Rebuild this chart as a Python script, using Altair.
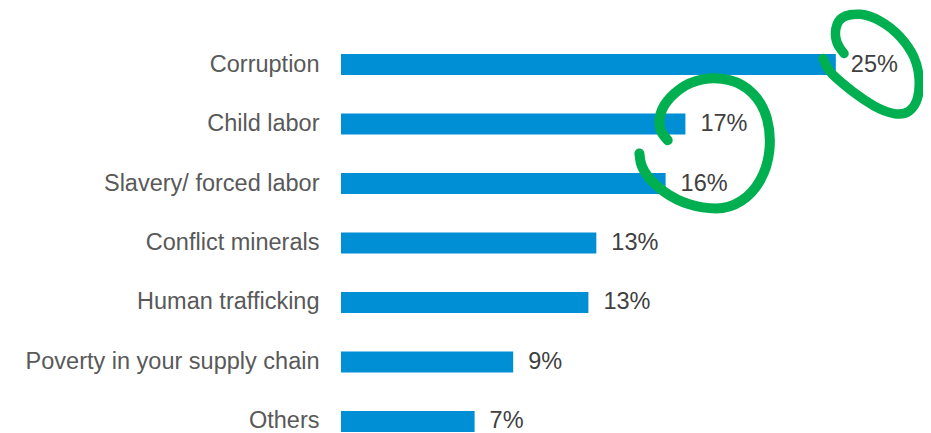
import altair as alt
import pandas as pd

categories = ["Corruption", "Child labor", "Slavery/ forced labor", "Conflict minerals",
              "Human trafficking", "Poverty in your supply chain", "Others"]
values = [25.0, 17.4, 16.4, 12.9, 12.5, 8.7, 6.75]
labels = ["25%", "17%", "16%", "13%", "13%", "9%", "7%"]

df = pd.DataFrame({"category": categories, "value": values, "label": labels})

FONT = "Liberation Sans"


def smooth_path(pts):
    """Hand-drawn looking loop as an SVG path (offsets in px from the anchor)."""
    mids = [((pts[i][0] + pts[i + 1][0]) / 2, (pts[i][1] + pts[i + 1][1]) / 2)
            for i in range(len(pts) - 1)]
    d = f"M{pts[0][0]} {pts[0][1]} L{mids[0][0]} {mids[0][1]}"
    for i in range(1, len(pts) - 1):
        d += f" Q{pts[i][0]} {pts[i][1]} {mids[i][0]} {mids[i][1]}"
    d += f" L{pts[-1][0]} {pts[-1][1]}"
    return d


loop1 = [(9, -11), (0.7, -21), (-1, -34.3), (4, -46), (17.3, -51), (37, -49.3),
         (60.7, -37.6), (80.7, -17.6), (90.7, 2.4), (92.3, 25.7), (87, 42.4),
         (74, 50.7), (54, 47.4), (30.7, 35.7), (7, 19), (-8, 5.7), (-12.7, -6)]
# squeeze the right side a little so the loop stays inside the page
loop1 = [(x * 0.91 if x > 0 else x, y) for x, y in loop1]
loop2 = [(-17.7, 16.2), (-26, 6.2), (-26, -10.5), (-16, -27.1), (4, -42.1),
         (30.7, -47.1), (57.3, -40.5), (77.3, -20.5), (85.7, 9.5), (82.3, 42.9),
         (67.3, 69.5), (44, 84.5), (17.3, 84.5), (-9.3, 76.2), (-32.7, 59.5),
         (-44.3, 42.9), (-46, 29.5)]

y_enc = alt.Y("category:N", sort=categories,
              scale=alt.Scale(paddingInner=0.647, paddingOuter=0),
              axis=alt.Axis(title=None, domain=False, ticks=False, labelPadding=22,
                            labelFont=FONT, labelFontSize=23.5, labelColor="#595959",
                            labelLimit=400))
x_enc = alt.X("value:Q", scale=alt.Scale(domain=[0, 29], nice=False, zero=True), axis=None)

base = alt.Chart(df)

bars = base.mark_bar(color="#008FD5").encode(x=x_enc, y=y_enc)

texts = base.mark_text(align="left", baseline="middle", dx=15, font=FONT,
                       fontSize=23.5, color="#404040").encode(x=x_enc, y=y_enc, text="label:N")

circle1 = base.transform_filter(alt.datum.category == "Corruption").mark_point(
    shape=smooth_path(loop1), size=4, filled=False, color="#00B050", opacity=1,
    strokeWidth=9.5, strokeCap="round", strokeJoin="round"
).encode(x=x_enc, y=y_enc)

circle2 = base.transform_filter(alt.datum.category == "Child labor").mark_point(
    shape=smooth_path(loop2), size=4, filled=False, color="#00B050", opacity=1,
    strokeWidth=10, strokeCap="round", strokeJoin="round"
).encode(x=x_enc, y=y_enc)

chart = alt.layer(bars, texts, circle1, circle2).properties(
    width=574, height=378,
    autosize=alt.AutoSizeParams(type="none"),
    padding={"left": 333, "top": 46, "right": 8, "bottom": 1},
    background="white",
).configure_view(stroke=None)

chart.save("out.html", embed_options={"renderer": "svg", "actions": False})
